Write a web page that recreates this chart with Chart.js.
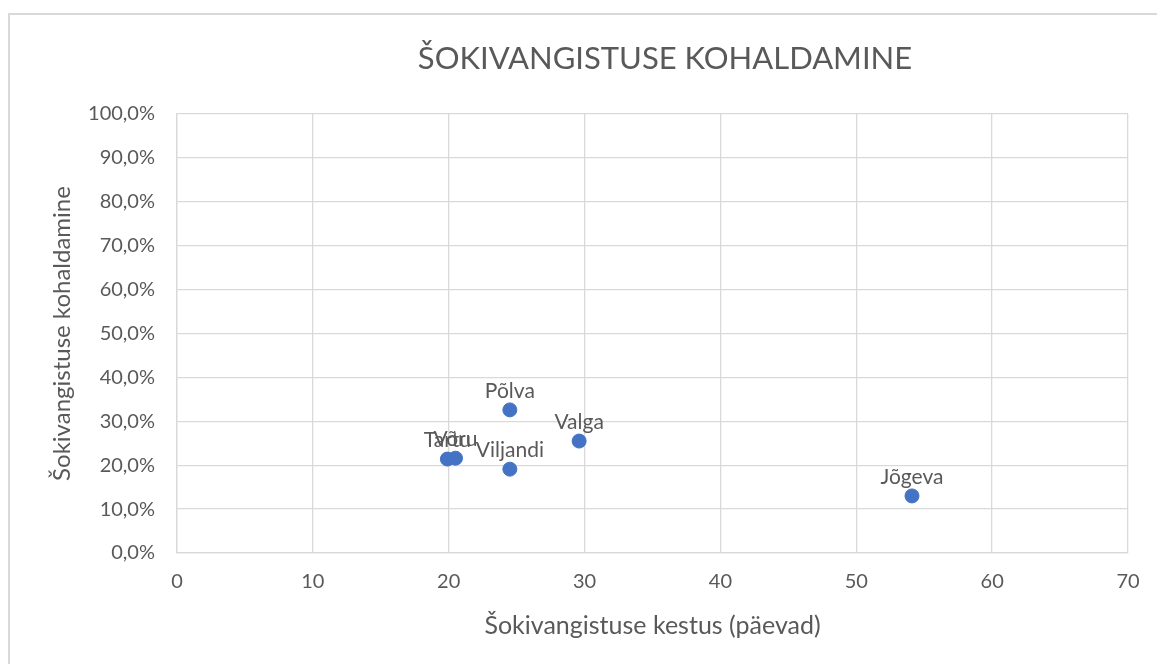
<!DOCTYPE html>
<html><head><meta charset="utf-8">
<script src="https://cdn.jsdelivr.net/npm/chart.js@4/dist/chart.umd.min.js"></script>
<style>
html,body{margin:0;padding:0;background:#fff;}
#wrap{position:absolute;left:0;top:0;width:1157px;height:664px;}
#frame{position:absolute;left:8px;top:13px;width:1160px;height:660px;border-left:2px solid #d9d9d9;border-top:2px solid #d9d9d9;}
canvas{position:absolute;left:0;top:0;}
</style></head>
<body>
<div id="wrap"><div id="frame"></div><canvas id="c" width="1157" height="664"></canvas></div>
<script>
const regions = ['Tartu','Võru','Põlva','Viljandi','Valga','Jõgeva'];
const durationDays = [19.9, 20.5, 24.5, 24.5, 29.6, 54.1];
const applicationPct = [21.4, 21.6, 32.6, 19.1, 25.5, 13.0];
const chartTitle = 'ŠOKIVANGISTUSE KOHALDAMINE';
const xTitle = 'Šokivangistuse kestus (päevad)';
const yTitle = 'Šokivangistuse kohaldamine';

const FONT = 'Lato, "Open Sans", sans-serif';
const GREY = '#595959';

const labelPlugin = {
  id: 'pointLabels',
  afterDatasetsDraw(chart) {
    const ctx = chart.ctx;
    const meta = chart.getDatasetMeta(0);
    ctx.save();
    ctx.font = '21px ' + FONT;
    ctx.fillStyle = GREY;
    ctx.textAlign = 'center';
    ctx.textBaseline = 'middle';
    meta.data.forEach((pt, i) => {
      ctx.fillText(regions[i], pt.x, pt.y - 19);
    });
    ctx.restore();
  }
};
const titlePlugin = {
  id: 'bigTitle',
  afterDraw(chart) {
    const ctx = chart.ctx;
    ctx.save();
    ctx.font = '31px ' + FONT;
    ctx.fillStyle = GREY;
    ctx.textAlign = 'center';
    ctx.textBaseline = 'middle';
    ctx.fillText(chartTitle, 665, 59);
    ctx.restore();
  }
};

new Chart(document.getElementById('c'), {
  type: 'scatter',
  data: {
    datasets: [{
      data: durationDays.map((x, i) => ({x: x, y: applicationPct[i]})),
      backgroundColor: '#4472C4',
      borderColor: '#4472C4',
      pointRadius: 7,
      pointHoverRadius: 7
    }]
  },
  options: {
    responsive: false,
    animation: false,
    layout: {padding: {left: 0, right: 29, top: 114, bottom: 0}},
    plugins: {legend: {display: false}, tooltip: {enabled: false}, title: {display: false}},
    scales: {
      x: {
        type: 'linear', min: 0, max: 70,
        ticks: {stepSize: 10, color: GREY, font: {size: 20, family: FONT}, padding: 17},
        grid: {color: '#d9d9d9', lineWidth: 1.3, drawTicks: false},
        border: {color: '#d9d9d9', width: 1.3},
        title: {display: true, text: xTitle, color: GREY, font: {size: 25, family: FONT}, padding: {top: 0, bottom: 23}},
        afterFit(s) { s.height = 111; }
      },
      y: {
        min: 0, max: 100,
        ticks: {stepSize: 10, color: GREY, font: {size: 20, family: FONT}, padding: 22,
          callback: v => v.toFixed(1).replace('.', ',') + '%'},
        grid: {color: '#d9d9d9', lineWidth: 1.3, drawTicks: false},
        border: {color: '#d9d9d9', width: 1.3},
        title: {display: true, text: yTitle, color: GREY, font: {size: 24, family: FONT}, padding: {top: 48, bottom: 0}},
        afterFit(s) { s.width = 177; }
      }
    }
  },
  plugins: [labelPlugin, titlePlugin]
});
</script>
</body></html>
